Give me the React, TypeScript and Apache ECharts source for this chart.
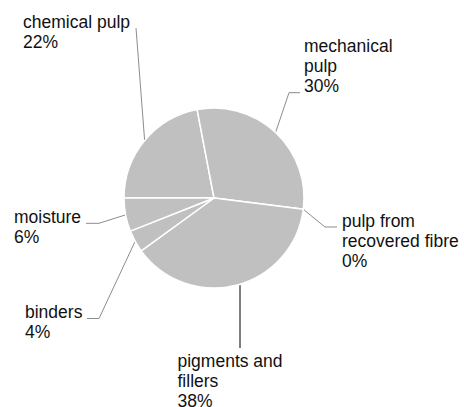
import React, { useEffect, useRef } from "react";
import * as echarts from "echarts";

// ---- data ----
const categories = [
  "chemical pulp",
  "mechanical pulp",
  "pulp from recovered fibre",
  "pigments and fillers",
  "binders",
  "moisture",
];
const shares = [22, 30, 0, 38, 4, 6];
const labelTexts = [
  "chemical pulp",
  "mechanical\npulp",
  "pulp from\nrecovered fibre",
  "pigments and\nfillers",
  "binders",
  "moisture",
];

// ---- layout (label boxes and leader line bends) ----
const labelBoxes: [number, number][] = [
  [23, 12],
  [304, 35.7],
  [342, 210.7],
  [177.5, 350.7],
  [25, 302.3],
  [14, 206.7],
];
const leaderBends: [number, number][][] = [
  [[136, 28]],
  [[289, 92.7], [300, 92.7]],
  [[325, 227], [337, 227]],
  [[240, 348]],
  [[99, 318.5], [87, 318.5]],
  [[99, 223.3], [86, 223.3]],
];

export default function App() {
  const ref = useRef<HTMLDivElement>(null);
  useEffect(() => {
    document.body.style.margin = "0";
    if (!ref.current) return;
    const chart = echarts.init(ref.current, undefined, { renderer: "svg" });
    chart.setOption({
      animation: false,
      backgroundColor: "#ffffff",
      series: [
        {
          type: "pie",
          center: [214, 198],
          radius: 90,
          startAngle: 180,
          clockwise: true,
          avoidLabelOverlap: false,
          silent: true,
          data: categories.map((name, i) => ({
            name,
            value: shares[i],
            labelLine:
              i === 3 ? { lineStyle: { color: "#000000", width: 1 } } : undefined,
          })),
          itemStyle: { color: "#c0c0c0", borderColor: "#ffffff", borderWidth: 1.5 },
          label: {
            show: true,
            position: "outside",
            formatter: (p: any) => labelTexts[p.dataIndex] + "\n" + p.value + "%",
            fontFamily: "'Liberation Sans', Arial, sans-serif",
            fontSize: 17.5,
            lineHeight: 20,
            color: "#111111",
            align: "left",
          },
          labelLine: {
            show: true,
            length: 10,
            length2: 10,
            lineStyle: { color: "#8c8c8c", width: 1 },
          },
          labelLayout: (params: any) => {
            const i = params.dataIndex;
            const pts = params.labelLinePoints;
            const edge = pts && pts[0] ? [pts[0][0], pts[0][1]] : [0, 0];
            const bends = leaderBends[i];
            let linePts: number[][];
            if (i === 3) {
              linePts = [[bends[0][0], edge[1]], bends[0], bends[0]];
            } else if (bends.length === 1) {
              linePts = [edge, bends[0], bends[0]];
            } else {
              linePts = [edge, bends[0], bends[1]];
            }
            return {
              x: labelBoxes[i][0],
              y: labelBoxes[i][1],
              align: "left",
              verticalAlign: "top",
              labelLinePoints: linePts,
            };
          },
        },
      ],
    });
    return () => chart.dispose();
  }, []);
  return <div ref={ref} style={{ width: 464, height: 407 }} />;
}
